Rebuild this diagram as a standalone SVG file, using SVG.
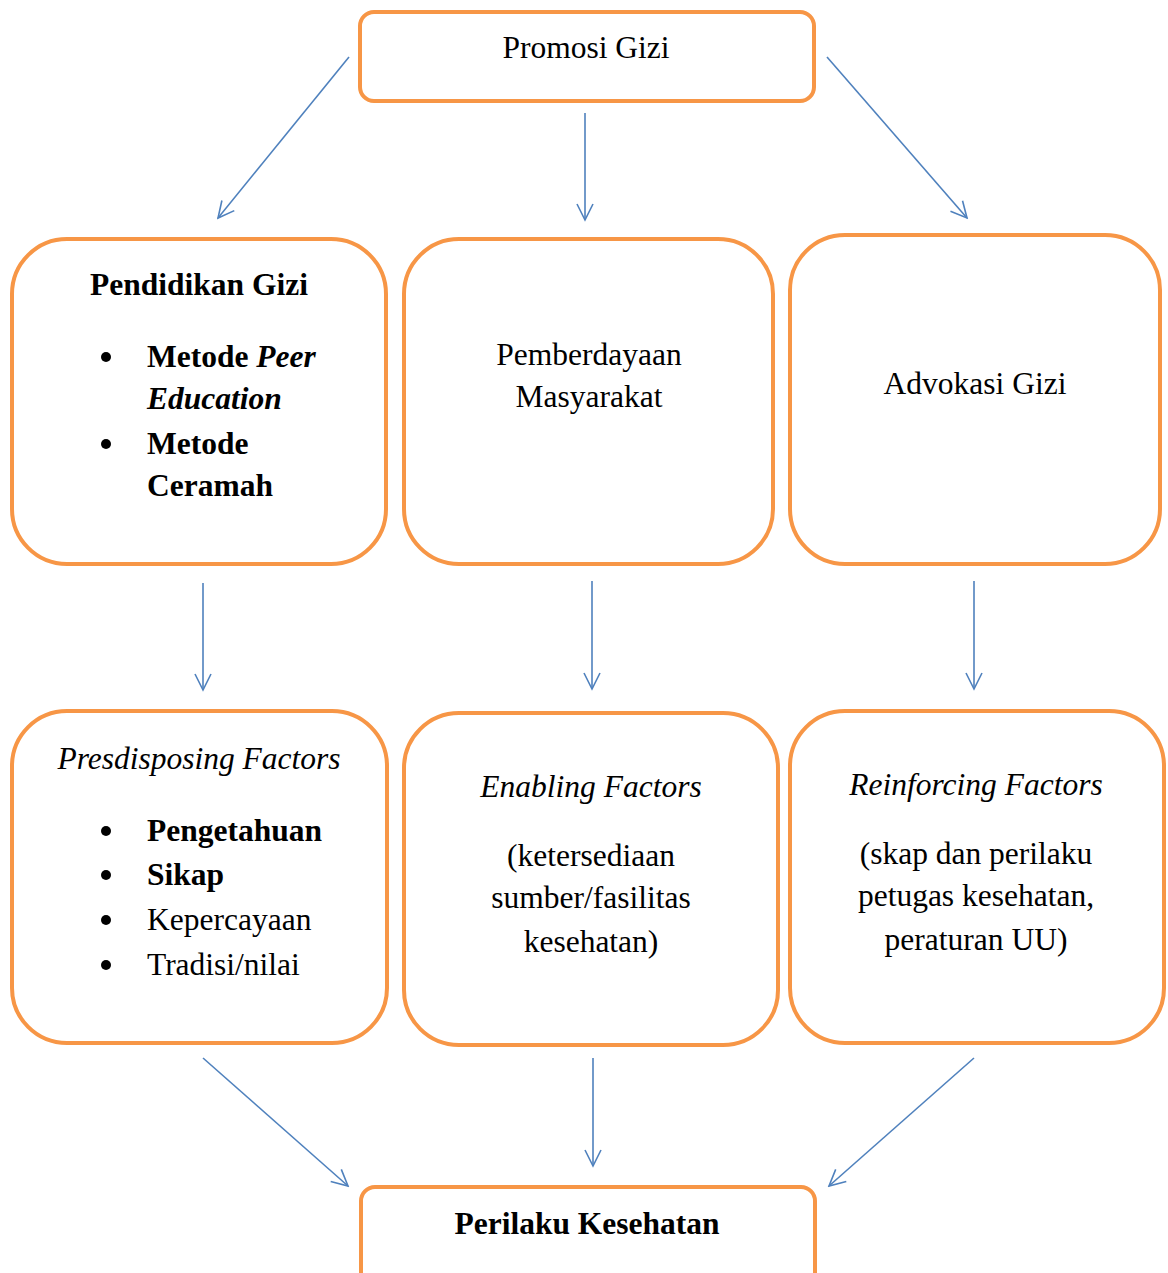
<svg xmlns="http://www.w3.org/2000/svg" width="1168" height="1273" viewBox="0 0 1168 1273">
<defs>
<style>
.box{fill:#fff;stroke:#F79646;stroke-width:4}
.t{font-family:"Liberation Serif","Times New Roman",serif;font-size:31.5px;fill:#000}
.c{text-anchor:middle}
.b{font-weight:bold}
.i{font-style:italic}
.conn line{stroke:#4F81BD;stroke-width:1.6;fill:none}
</style>
<marker id="ah" viewBox="0 0 20 20" refX="18" refY="10" markerWidth="20" markerHeight="20" markerUnits="userSpaceOnUse" orient="auto">
<path d="M2,2 L18,10 L2,18" fill="none" stroke="#4F81BD" stroke-width="1.6"/>
</marker>
</defs>
<rect width="1168" height="1273" fill="#fff"/>
<g id="connectors" class="conn">
<line x1="349" y1="57" x2="218" y2="218" marker-end="url(#ah)"/>
<line x1="585" y1="113" x2="585" y2="220" marker-end="url(#ah)"/>
<line x1="827" y1="57" x2="967" y2="218" marker-end="url(#ah)"/>
<line x1="203" y1="583" x2="203" y2="690" marker-end="url(#ah)"/>
<line x1="592" y1="581" x2="592" y2="689" marker-end="url(#ah)"/>
<line x1="974" y1="581" x2="974" y2="689" marker-end="url(#ah)"/>
<line x1="203" y1="1058" x2="348" y2="1186" marker-end="url(#ah)"/>
<line x1="593" y1="1058" x2="593" y2="1166" marker-end="url(#ah)"/>
<line x1="974" y1="1058" x2="829" y2="1186" marker-end="url(#ah)"/>
</g>
<g id="promosi">
<rect class="box" x="360" y="12" width="454" height="89" rx="14"/>
<text class="t c" x="586" y="58">Promosi Gizi</text>
</g>
<g id="pendidikan">
<rect class="box" x="12" y="239" width="374" height="325" rx="55"/>
<text class="t c b" x="199" y="295">Pendidikan Gizi</text>
<circle cx="106" cy="357" r="5"/>
<text class="t b" x="147" y="367">Metode <tspan class="i">Peer</tspan></text>
<text class="t b i" x="147" y="409">Education</text>
<circle cx="106" cy="444" r="5"/>
<text class="t b" x="147" y="454">Metode</text>
<text class="t b" x="147" y="496">Ceramah</text>
</g>
<g id="pemberdayaan">
<rect class="box" x="404" y="239" width="369" height="325" rx="55"/>
<text class="t c" x="589" y="365">Pemberdayaan</text>
<text class="t c" x="589" y="407">Masyarakat</text>
</g>
<g id="advokasi">
<rect class="box" x="790" y="235" width="370" height="329" rx="55"/>
<text class="t c" x="975" y="394">Advokasi Gizi</text>
</g>
<g id="predisposing">
<rect class="box" x="12" y="711" width="375" height="332" rx="55"/>
<text class="t c i" x="199" y="769">Presdisposing Factors</text>
<circle cx="106" cy="831" r="5"/>
<text class="t b" x="147" y="841">Pengetahuan</text>
<circle cx="106" cy="875" r="5"/>
<text class="t b" x="147" y="885">Sikap</text>
<circle cx="106" cy="920" r="5"/>
<text class="t" x="147" y="930">Kepercayaan</text>
<circle cx="106" cy="965" r="5"/>
<text class="t" x="147" y="975">Tradisi/nilai</text>
</g>
<g id="enabling">
<rect class="box" x="404" y="713" width="374" height="332" rx="55"/>
<text class="t c i" x="591" y="797">Enabling Factors</text>
<text class="t c" x="591" y="866">(ketersediaan</text>
<text class="t c" x="591" y="908">sumber/fasilitas</text>
<text class="t c" x="591" y="952">kesehatan)</text>
</g>
<g id="reinforcing">
<rect class="box" x="790" y="711" width="374" height="332" rx="55"/>
<text class="t c i" x="976" y="795">Reinforcing Factors</text>
<text class="t c" x="976" y="864">(skap dan perilaku</text>
<text class="t c" x="976" y="906">petugas kesehatan,</text>
<text class="t c" x="976" y="950">peraturan UU)</text>
</g>
<g id="perilaku">
<rect class="box" x="361" y="1187" width="454" height="110" rx="14"/>
<text class="t c b" x="587" y="1234">Perilaku Kesehatan</text>
</g>
</svg>
